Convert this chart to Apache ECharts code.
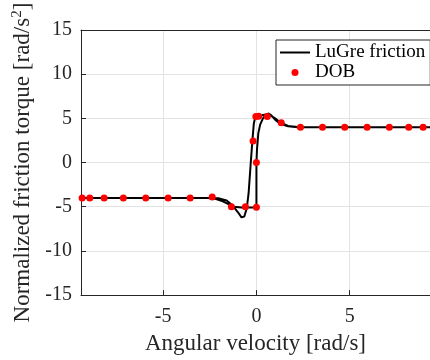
<!DOCTYPE html>
<html><head><meta charset="utf-8">
<script src="https://cdn.jsdelivr.net/npm/echarts@6/dist/echarts.min.js"></script>
<style>html,body{margin:0;padding:0;background:#fff}#c{width:430px;height:360px}</style>
</head><body><div id="c"></div>
<script>
// LuGre friction hysteresis loop: velocity (rad/s) and normalized torque
var lugreV = [-9.4,-2.6,-2.0,-1.6,-1.3,-1.0,-0.8,-0.65,-0.52,-0.42,-0.32,-0.22,-0.14,-0.06,0.1,0.3,0.5,0.7,1.0,1.3,1.7,2.2,2.8,9.4,
              2.8,2.2,1.7,1.3,1.0,0.8,0.65,0.5,0.35,0.2,0.1,0.03,0.0,0.0,-0.3,-0.8,-1.2,-1.5,-1.8,-2.2,-2.6,-9.4];
var lugreF = [-4,-4,-4.05,-4.3,-4.8,-5.6,-6.2,-6.1,-5.2,-3.5,-0.5,2.4,4.4,5.2,5.3,5.35,5.45,5.4,5.0,4.5,4.15,4.02,4,4,
              4,4.0,4.1,4.35,4.85,5.35,5.55,5.4,5.0,4.3,3.3,1.5,0.0,-5.1,-5.1,-5.1,-5.0,-4.7,-4.4,-4.1,-4.0,-4];
// DOB estimates
var dobV = [-9.34,-8.93,-8.16,-7.13,-5.93,-4.73,-3.55,-2.37,-1.34,-0.59,0,0,-0.18,-0.03,0.12,0.58,1.33,2.36,3.54,4.73,5.93,7.12,8.16,8.93,9.34];
var dobF = [-4,-4,-4,-4,-4,-4,-4,-3.9,-5.0,-5.0,-5.05,0,2.45,5.2,5.25,5.2,4.5,4.0,4,4,4,4,4,4,4];
var xTicks = [-5,0,5];
var seriesNames = ['LuGre friction','DOB'];
var xName = 'Angular velocity [rad/s]';
var yName = '{n|Normalized friction torque [rad/s}{sup|2}{n|]}';

var lugre = lugreV.map(function(v,i){return [v,lugreF[i]];});
var dob = dobV.map(function(v,i){return [v,dobF[i]];});
var ff = '"Liberation Serif","Times New Roman",serif';
var axisCol = '#262626';
var chart = echarts.init(document.getElementById('c'));
chart.setOption({
  animation:false,
  textStyle:{fontFamily:ff,color:axisCol},
  grid:{left:81,top:30,right:0,bottom:63},
  legend:{
    left:276, top:40, orient:'vertical',
    backgroundColor:'#fff', borderColor:axisCol, borderWidth:1, borderRadius:0,
    padding:[3,5,3,4], itemGap:1, itemWidth:30, itemHeight:7,
    textStyle:{fontFamily:ff,fontSize:19,color:'#000'},
    data:[{name:seriesNames[0],icon:'path://M0,0h30v2h-30z'},{name:seriesNames[1],icon:'circle'}]
  },
  xAxis:[{
    type:'value', min:-9.4, max:9.3,
    name:xName, nameLocation:'middle', nameGap:23,
    nameTextStyle:{fontFamily:ff,fontSize:23,color:axisCol},
    axisLine:{onZero:false,lineStyle:{color:axisCol,width:1}},
    axisTick:{inside:true,length:5,customValues:xTicks,lineStyle:{color:axisCol}},
    axisLabel:{customValues:xTicks,fontFamily:ff,fontSize:20,color:axisCol,margin:12},
    splitLine:{show:true,lineStyle:{color:'#e3e3e3',width:1}}
  },{
    type:'value', min:-9.4, max:9.3, position:'top',
    axisLine:{show:true,onZero:false,lineStyle:{color:axisCol,width:1}},
    axisTick:{show:false}, axisLabel:{show:false}, splitLine:{show:false}
  }],
  yAxis:{
    type:'value', min:-15, max:15, interval:5,
    name:yName, nameLocation:'middle', nameGap:27,
    nameTextStyle:{fontFamily:ff,fontSize:23,color:axisCol,
      rich:{n:{fontFamily:ff,fontSize:23,color:axisCol,lineHeight:27},
            sup:{fontFamily:ff,fontSize:15,color:axisCol,verticalAlign:'top',lineHeight:27}}},
    axisLine:{show:true,onZero:false,lineStyle:{color:axisCol,width:1}},
    axisTick:{show:true,inside:true,length:5,lineStyle:{color:axisCol}},
    axisLabel:{fontFamily:ff,fontSize:20,color:axisCol,margin:9},
    splitLine:{show:true,lineStyle:{color:'#e3e3e3',width:1}}
  },
  series:[
    {name:seriesNames[0],type:'line',data:lugre,symbol:'none',
     lineStyle:{color:'#000',width:2},itemStyle:{color:'#000'},z:2},
    {name:seriesNames[1],type:'scatter',data:dob,symbol:'circle',symbolSize:7,
     itemStyle:{color:'#ff0000',opacity:1},z:3}
  ]
});
</script></body></html>
